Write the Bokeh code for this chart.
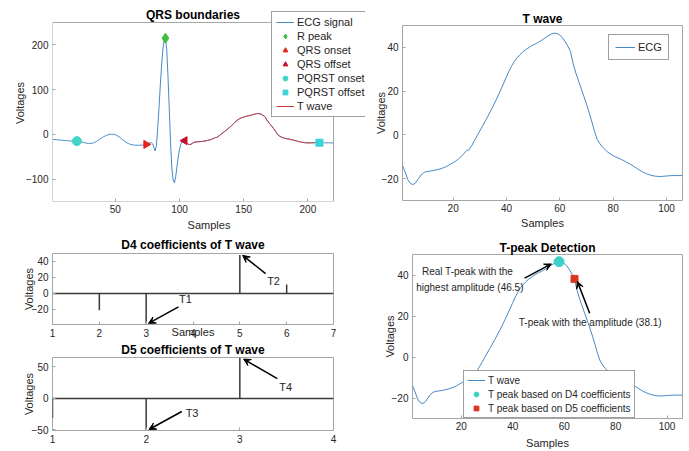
import math
from bokeh.plotting import figure
from bokeh.layouts import row, column
from bokeh.models import Range1d, FixedTicker, Legend, LegendItem, Label, Arrow, VeeHead
from bokeh.embed import file_html
from bokeh.resources import INLINE

# ---------------- data ----------------
# ECG samples 1..103 (before QRS offset)
ecg_pre = [
    -11, -11.3, -11.6, -11.9, -12.2, -12.5, -12.8, -13.1, -13.4, -13.7,
    -13.9, -14.1, -14.3, -14.5, -14.6, -14.7, -14.8, -14.9, -15, -15.1,
    -15.2, -15.6, -16.2, -17, -17.8, -18.6, -19.3, -19.8, -20.1, -20.2,
    -20.1, -19.6, -18.8, -17.6, -16.1, -14.4, -12.5, -10.5, -8.6, -6.8,
    -5.1, -3.6, -2.3, -1.2, -0.4, 0.1, 0.3, 0.2, -0.2, -1,
    -2.2, -3.8, -5.8, -8, -10.4, -12.8, -15, -17, -18.8, -20.3,
    -21.5, -22.5, -23.2, -23.7, -24, -24.2, -24.3, -24.3, -24.2, -24.1,
    -24, -23.6, -22.9, -22.4, -21.5, -20, -18.8, -18.5, -21, -29,
    -37, -25, 15, 60, 110, 155, 190, 210, 215, 190,
    130, 55, -20, -75, -102, -108, -95, -72, -50, -33,
    -22, -17, -15.5,
]
# T wave (106 samples), = ECG samples 104..209
t_wave = [
    -14, -17, -20.5, -22.3, -22.7, -21.8, -20, -18.3, -17.2, -16.8,
    -16.6, -16.4, -16.2, -15.9, -15.6, -15.2, -14.7, -14.1, -13.4, -12.7,
    -11.9, -11, -9.9, -8.6, -7.2, -6.8, -4.8, -2.6, -0.4, 1.8,
    4, 6.2, 8.5, 10.8, 13.2, 15.7, 18.3, 21, 23.8, 26.6,
    29.3, 31.7, 33.7, 35.3, 36.6, 37.8, 38.8, 39.6, 40.4, 41.1,
    41.7, 42.4, 43.1, 43.9, 44.8, 45.6, 46.2, 46.5, 46.3, 45.6,
    44.4, 42.6, 40.6, 38.1, 32.5, 28.3, 24.7, 21.2, 17.7, 14,
    10.2, 6, 1.6, -2, -4, -5.6, -6.8, -7.9, -8.8, -9.5,
    -10.1, -10.6, -11.2, -11.8, -12.5, -13.1, -13.8, -14.6, -15.4, -16.2,
    -16.9, -17.5, -18, -18.4, -18.7, -18.9, -19, -19, -18.9, -18.8,
    -18.7, -18.6, -18.6, -18.6, -18.6, -18.6,
]
# ECG samples 210..220
ecg_post = [-18.6, -18.7, -18.7, -18.8, -18.8, -18.9, -18.9, -19, -19, -19, -19]

r_peak_sample = 89
qrs_onset_sample = 74
qrs_offset_sample = 104
pqrst_onset_sample = 20
pqrst_offset_sample = 209

d4_index = [1, 2, 3, 4, 5, 6, 7]
d4_coeffs = [0, -21, -38, 0, 48, 11, 0]
d5_index = [1, 2, 3, 4]
d5_coeffs = [-31, -50, 65, 0]

tpeak_d4_sample = 58
tpeak_d5_sample = 64

# ---------------- helpers ----------------
FONT = "Liberation Sans"
BLUE = "#4589c6"
RED = "#cf3b3b"
AX = "#a6a6a6"
TXT = "#262626"

ecg = ecg_pre + t_wave + ecg_post
ecg_x = list(range(1, len(ecg) + 1))
t_start = len(ecg_pre) + 1
t_x_ecg = list(range(t_start, t_start + len(t_wave)))
t_x = list(range(1, len(t_wave) + 1))


def make_fig(w, h, title, xr, yr, xticks, yticks, xlabel, ylabel, borders,
             ylab_standoff=-6, xlab_standoff=6, tick_standoff=4, title_standoff=0):
    l, r, t, b = borders
    kw = dict(width=w, height=h, x_range=Range1d(*xr), y_range=Range1d(*yr),
              output_backend="svg", toolbar_location=None,
              min_border_left=l, min_border_right=r, min_border_top=t,
              min_border_bottom=b)
    if title:
        kw["title"] = title
    p = figure(**kw)
    p.frame_align = False
    if title:
        p.title.align = "center"
        p.title.text_font = FONT
        p.title.text_font_size = "12px"
        p.title.text_font_style = "bold"
        p.title.text_color = "black"
        p.title.standoff = title_standoff
    p.xgrid.visible = False
    p.ygrid.visible = False
    p.outline_line_color = AX
    p.outline_line_width = 1
    for ax in (p.xaxis[0], p.yaxis[0]):
        ax.axis_line_color = None
        ax.major_tick_in = 3
        ax.major_tick_out = 0
        ax.major_tick_line_color = AX
        ax.minor_tick_line_color = None
        ax.major_label_text_font = FONT
        ax.major_label_text_font_size = "10px"
        ax.major_label_text_color = TXT
        ax.major_label_standoff = 4
        ax.axis_label_text_font = FONT
        ax.axis_label_text_font_size = "11px"
        ax.axis_label_text_font_style = "normal"
        ax.axis_label_text_color = TXT
    p.xaxis.major_label_standoff = tick_standoff
    p.xaxis.axis_label_standoff = xlab_standoff
    p.yaxis.axis_label_standoff = ylab_standoff
    p.xaxis.ticker = FixedTicker(ticks=xticks)
    p.yaxis.ticker = FixedTicker(ticks=yticks)
    if xlabel:
        p.xaxis.axis_label = xlabel
    if ylabel:
        p.yaxis.axis_label = ylabel
    return p


def style_legend(lg, size="10px"):
    lg.label_text_font = FONT
    lg.label_text_font_size = size
    lg.label_text_color = TXT
    lg.border_line_color = "#404040"
    lg.border_line_width = 1
    lg.background_fill_alpha = 1
    lg.margin = 0
    lg.padding = 3
    lg.spacing = 2
    lg.label_height = 12
    lg.glyph_height = 12
    lg.glyph_width = 18
    lg.label_standoff = 3


def add_arrow(p, xs, ys, xe, ye):
    p.add_layout(Arrow(end=VeeHead(size=7, fill_color="black", line_color="black"),
                       x_start=xs, y_start=ys, x_end=xe, y_end=ye,
                       line_color="black", line_width=1.5))


def add_label(p, x, y, text, size="10px", bold=False, color=TXT):
    p.add_layout(Label(x=x, y=y, text=text, text_font=FONT, text_font_size=size,
                       text_color=color, text_align="center", text_baseline="middle",
                       text_font_style="bold" if bold else "normal"))


# ---------------- QRS boundaries ----------------
X_LO, X_HI, Y_LO, Y_HI = 1, 220, -150, 250
X_FRAME_HI = 244.9   # frame extends right so the legend can overhang the box
Y_FRAME_HI = 290.2   # frame extends up so the legend / title can overhang the box
p1 = make_fig(368, 234, None, (X_LO, X_FRAME_HI), (Y_LO, Y_FRAME_HI),
              [50, 100, 150, 200], [-100, 0, 100, 200], "Samples", "Voltages",
              (52, 3, 4, 33), ylab_standoff=-3, xlab_standoff=3, tick_standoff=3)
p1.outline_line_color = None
p1.segment(x0=[X_LO, X_LO, X_LO, X_HI], y0=[Y_LO, Y_HI, Y_LO, Y_LO],
           x1=[X_HI, X_HI, X_LO, X_HI], y1=[Y_LO, Y_HI, Y_HI, Y_HI],
           line_color=AX, line_width=1)
add_label(p1, (X_LO + X_HI) / 2, 267.5, "QRS boundaries", size="12px", bold=True,
          color="black")
r_ecg = p1.line(ecg_x, ecg, line_color=BLUE, line_width=1)
r_t = p1.line(t_x_ecg, t_wave, line_color=RED, line_width=1)
r_rp = p1.scatter([r_peak_sample], [ecg[r_peak_sample - 1]], marker="diamond",
                  size=10, fill_color="#3cbf3c", line_color="#3cbf3c")
r_on = p1.scatter([qrs_onset_sample], [ecg[qrs_onset_sample - 1]], marker="triangle",
                  angle=-math.pi / 2, size=8, fill_color="#e8231c", line_color="#e8231c")
r_off = p1.scatter([qrs_offset_sample], [ecg[qrs_offset_sample - 1]], marker="triangle",
                   angle=math.pi / 2, size=8, fill_color="#c4102c", line_color="#c4102c")
r_pon = p1.scatter([pqrst_onset_sample], [ecg[pqrst_onset_sample - 1]], marker="circle",
                   size=9, fill_color="#3fd6c6", line_color="#3fd6c6")
r_poff = p1.scatter([pqrst_offset_sample], [ecg[pqrst_offset_sample - 1]], marker="square",
                    size=7, fill_color="#3ad4d8", line_color="#3ad4d8")
lg1 = Legend(items=[LegendItem(label="ECG signal", renderers=[r_ecg]),
                    LegendItem(label="R peak", renderers=[r_rp]),
                    LegendItem(label="QRS onset", renderers=[r_on]),
                    LegendItem(label="QRS offset", renderers=[r_off]),
                    LegendItem(label="PQRST onset", renderers=[r_pon]),
                    LegendItem(label="PQRST offset", renderers=[r_poff]),
                    LegendItem(label="T wave", renderers=[r_t])],
             location=(219, 84))
style_legend(lg1, "11px")
lg1.padding = 4
lg1.spacing = 2
p1.add_layout(lg1)

# ---------------- D4 ----------------
p2 = make_fig(368, 106, "D4 coefficients of T wave", (1, 7), (-39, 50),
              d4_index, [-20, 0, 20, 40], "Samples", "Voltages", (52, 35, 17, 15),
              ylab_standoff=-6, xlab_standoff=-14, title_standoff=3)
p2.segment(x0=[1], y0=[0], x1=[7], y1=[0], line_color="#3a3a3a", line_width=1.5)
p2.segment(x0=d4_index, y0=[0] * len(d4_index), x1=d4_index, y1=d4_coeffs,
           line_color="#3a3a3a", line_width=1.5)
add_label(p2, 3.84, -7.6, "T1", size="11px")
add_arrow(p2, 3.69, -17, 3.05, -37.6)
add_label(p2, 5.72, 15.2, "T2", size="11px")
add_arrow(p2, 5.55, 24.8, 5.06, 47.7)

# ---------------- D5 ----------------
p3 = make_fig(368, 111, "D5 coefficients of T wave", (1, 4), (-51, 65),
              d5_index, [-50, 0, 50], None, "Voltages", (52, 35, 15, 21),
              ylab_standoff=-6, title_standoff=1)
p3.segment(x0=[1], y0=[0], x1=[4], y1=[0], line_color="#3a3a3a", line_width=1.5)
p3.segment(x0=d5_index, y0=[0] * len(d5_index), x1=d5_index, y1=d5_coeffs,
           line_color="#3a3a3a", line_width=1.5)
add_label(p3, 2.49, -23.4, "T3", size="11px")
add_arrow(p3, 2.38, -20.8, 2.03, -49.4)
add_label(p3, 3.49, 18.3, "T4", size="11px")
add_arrow(p3, 3.40, 31.3, 3.04, 62.5)

# ---------------- T wave ----------------
p4 = make_fig(321, 232, "T wave", (1, 106), (-30, 50),
              [20, 40, 60, 80, 100], [-20, 0, 20, 40], "Samples", "Voltages",
              (34, 7, 25, 32), ylab_standoff=-8, xlab_standoff=2, tick_standoff=3)
r_tw = p4.line(t_x, t_wave, line_color=BLUE, line_width=1)
lg4 = Legend(items=[LegendItem(label="ECG", renderers=[r_tw])], location=(206, 140))
style_legend(lg4, "11px")
lg4.padding = 6
lg4.glyph_width = 20
p4.add_layout(lg4)

# ---------------- T-peak detection ----------------
p5 = make_fig(321, 219, "T-peak Detection", (1, 106), (-30, 50),
              [20, 40, 60, 80, 100], [-20, 0, 20, 40], "Samples", "Voltages",
              (44, 7, 22, 33), ylab_standoff=-7, xlab_standoff=4, tick_standoff=3)
r_tw5 = p5.line(t_x, t_wave, line_color=BLUE, line_width=1)
r_d4 = p5.scatter([tpeak_d4_sample], [t_wave[tpeak_d4_sample - 1]], marker="circle",
                  size=10, fill_color="#3fd0cc", line_color="#3fd0cc")
r_d5 = p5.scatter([tpeak_d5_sample], [t_wave[tpeak_d5_sample - 1]], marker="square",
                  size=7, fill_color="#d9381e", line_color="#d9381e")
add_label(p5, 22.4, 41.7, "Real T-peak with the")
add_label(p5, 23.3, 33.7, "highest amplitude (46.5)")
add_arrow(p5, 44.6, 38.5, 55, 45.4)
add_label(p5, 70.1, 16.8, "T-peak with the amplitude (38.1)")
add_arrow(p5, 69.9, 21.3, 65.1, 36.9)
lg5 = Legend(items=[LegendItem(label="T wave", renderers=[r_tw5]),
                    LegendItem(label="T peak based on D4 coefficients", renderers=[r_d4]),
                    LegendItem(label="T peak based on D5 coefficients", renderers=[r_d5])],
             location=(51, 0))
style_legend(lg5, "10px")
lg5.spacing = 2
p5.add_layout(lg5)

layout = row(column(p1, p2, p3), column(p4, p5))
open("out.html", "w").write(file_html(layout, INLINE))
